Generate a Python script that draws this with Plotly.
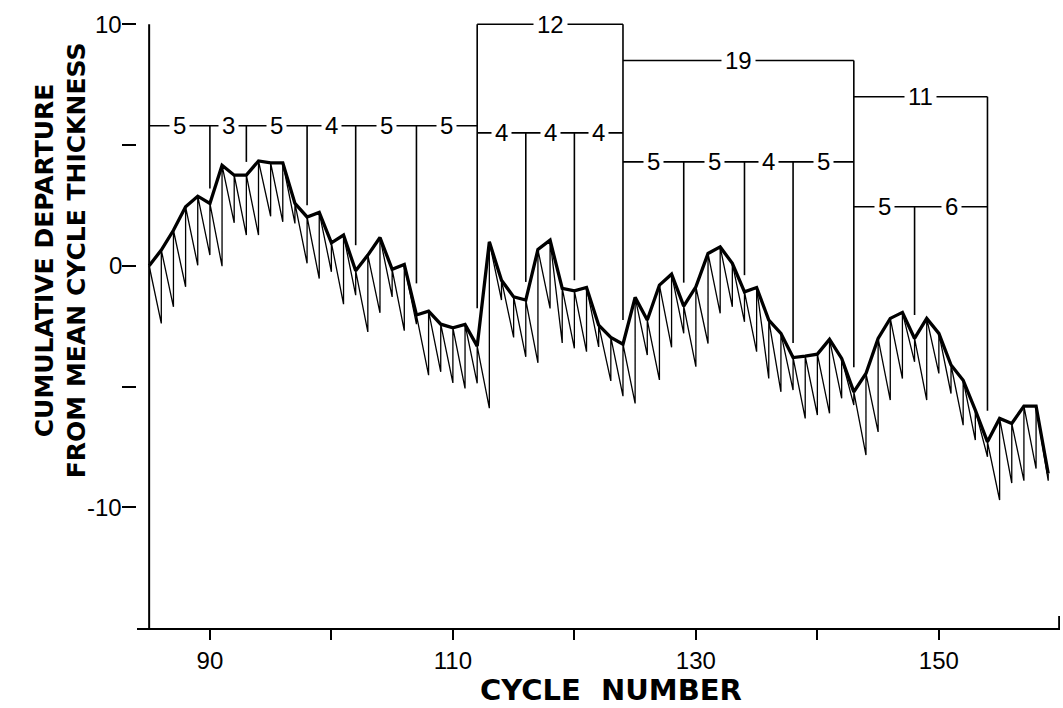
import plotly.graph_objects as go

# ---------------- data ----------------
cycles = list(range(85, 160))

# cumulative departure at each cycle (thick line)
tops = [0.00, 0.65, 1.47, 2.44, 2.88, 2.58, 4.16, 3.75, 3.75, 4.34,
        4.26, 4.26, 2.58, 2.02, 2.21, 0.95, 1.27, -0.21, 0.44, 1.17,
        -0.15, 0.05, -2.04, -1.88, -2.42, -2.57, -2.43, -3.33, 0.99, -0.60,
        -1.29, -1.42, 0.67, 1.06, -0.94, -1.04, -0.90, -2.46, -2.97, -3.25,
        -1.31, -2.25, -0.80, -0.35, -1.67, -0.87, 0.51, 0.78, 0.10, -1.08,
        -0.90, -2.25, -2.80, -3.80, -3.74, -3.66, -3.05, -3.84, -5.22, -4.46,
        -3.01, -2.18, -1.93, -3.01, -2.18, -2.80, -4.11, -4.74, -5.98, -7.29,
        -6.32, -6.53, -5.81, -5.81, -8.60]

# low point reached at the end of each cycle (thin saw-tooth), cycles 86..159
lows = [-2.39, -1.70, -0.87, 0.02, 0.44, -0.02, 1.78, 1.27, 1.27, 2.05,
        1.82, 1.75, 0.10, -0.53, -0.25, -1.59, -1.22, -2.74, -1.95, -1.29,
        -2.69, -2.42, -4.53, -4.39, -4.85, -5.08, -4.87, -5.90, -1.42, -2.97,
        -3.77, -4.02, -1.77, -3.20, -3.42, -3.56, -3.36, -4.77, -5.40, -5.70,
        -3.70, -4.73, -3.38, -2.80, -4.18, -3.22, -1.97, -1.70, -2.32, -3.56,
        -4.67, -5.22, -5.15, -6.32, -6.18, -6.11, -5.49, -5.77, -7.84, -6.88,
        -5.56, -4.67, -3.98, -5.56, -4.46, -5.29, -6.60, -7.22, -7.91, -9.70,
        -9.00, -8.90, -8.40, -8.90]

# bracket rows: level, boundaries (cycle numbers), group labels
row_levels = [5.8, 5.5, 10.0, 8.5, 4.3, 7.0, 2.44]
row_bounds = [[85, 90, 93, 98, 102, 107, 112],
              [112, 116, 120, 124],
              [112, 124],
              [124, 143],
              [124, 129, 134, 138, 143],
              [143, 154],
              [143, 148, 154]]
row_labels = [["5", "3", "5", "4", "5", "5"],
              ["4", "4", "4"],
              ["12"],
              ["19"],
              ["5", "5", "4", "5"],
              ["11"],
              ["5", "6"]]

# vertical dividers: cycle, top level, lower end
div_cycles = [90, 93, 98, 102, 107, 112, 116, 120, 124, 129, 134, 138, 143, 148, 154]
div_tops = [5.8, 5.8, 5.8, 5.8, 5.8, 10.0, 5.5, 5.5, 10.0, 4.3, 4.3, 4.3, 8.5, 2.44, 7.0]
div_bottoms = [3.2, 4.3, 2.5, 0.85, -0.73, -1.76, -0.67, -0.6, -2.25, -0.7, -0.39,
               -3.2, -4.2, -2.04, -6.0]

x_tick_vals = [90, 100, 110, 120, 130, 140, 150]
x_tick_text = ["90", "", "110", "", "130", "", "150"]
y_tick_vals = [10, 5, 0, -5, -10]
y_tick_text = ["10", "", "0", "", "-10"]

# ---------------- figure ----------------
saw_x, saw_y = [cycles[0]], [tops[0]]
for i in range(1, len(cycles)):
    saw_x += [cycles[i], cycles[i]]
    saw_y += [lows[i - 1], tops[i]]

fig = go.Figure()
fig.add_trace(go.Scatter(x=saw_x, y=saw_y, mode="lines",
                         line=dict(color="black", width=1.3), hoverinfo="skip"))
fig.add_trace(go.Scatter(x=cycles, y=tops, mode="lines",
                         line=dict(color="black", width=3.3), hoverinfo="skip"))

shapes = []
annotations = []
num_font = dict(family="Liberation Sans", size=24, color="black")
for lvl, bounds, labels in zip(row_levels, row_bounds, row_labels):
    shapes.append(dict(type="line", xref="x", yref="y", x0=bounds[0], x1=bounds[-1],
                       y0=lvl, y1=lvl, line=dict(color="black", width=1.6)))
    for j, lab in enumerate(labels):
        annotations.append(dict(x=(bounds[j] + bounds[j + 1]) / 2, y=lvl, xref="x", yref="y",
                                text=lab, showarrow=False, font=num_font,
                                bgcolor="white", borderpad=3))
for c, t, b in zip(div_cycles, div_tops, div_bottoms):
    shapes.append(dict(type="line", xref="x", yref="y", x0=c, x1=c, y0=t, y1=b,
                       line=dict(color="black", width=1.6)))

# y axis line and right end tick of x axis
shapes.append(dict(type="line", xref="x", yref="y", x0=85, x1=85, y0=-15, y1=10,
                   line=dict(color="black", width=2)))
shapes.append(dict(type="line", xref="x", yref="y", x0=159.9, x1=159.9, y0=-15, y1=-14.5,
                   line=dict(color="black", width=2)))

# y tick labels placed close to their ticks, as in the original
for v, t in zip(y_tick_vals, y_tick_text):
    if t:
        annotations.append(dict(x=-0.0145, y=v, xref="paper", yref="y",
                                xanchor="right", yanchor="middle", text=t,
                                showarrow=False, font=num_font))

annotations.append(dict(x=0.5135, y=-0.1015, xref="paper", yref="paper",
                        xanchor="center", yanchor="middle",
                        text="CYCLE  NUMBER", showarrow=False,
                        font=dict(family="DejaVu Sans", size=29, color="black", weight="bold")))
annotations.append(dict(x=-0.0823, y=0.602, xref="paper", yref="paper",
                        xanchor="center", yanchor="middle", textangle=-90,
                        text="CUMULATIVE DEPARTURE<br>FROM MEAN CYCLE THICKNESS",
                        showarrow=False,
                        font=dict(family="DejaVu Sans", size=25, color="black", weight="bold")))

fig.update_layout(
    width=1063, height=708,
    margin=dict(l=137, r=3, t=17, b=80),
    paper_bgcolor="white", plot_bgcolor="white",
    showlegend=False,
    shapes=shapes, annotations=annotations,
    xaxis=dict(range=[84, 159.97], showgrid=False, zeroline=False,
               showline=True, linecolor="black", linewidth=2,
               ticks="outside", ticklen=10, tickwidth=2, tickcolor="black",
               tickvals=x_tick_vals, ticktext=x_tick_text,
               tickfont=dict(family="Liberation Sans", size=24, color="black")),
    yaxis=dict(range=[-15, 10.3], showgrid=False, zeroline=False, showline=False,
               ticks="outside", ticklen=14, tickwidth=2, tickcolor="black",
               tickvals=y_tick_vals, ticktext=["" for _ in y_tick_vals]),
)

fig.write_html("out.html", config={"displayModeBar": False},
               post_script="document.body.style.margin='0';")
